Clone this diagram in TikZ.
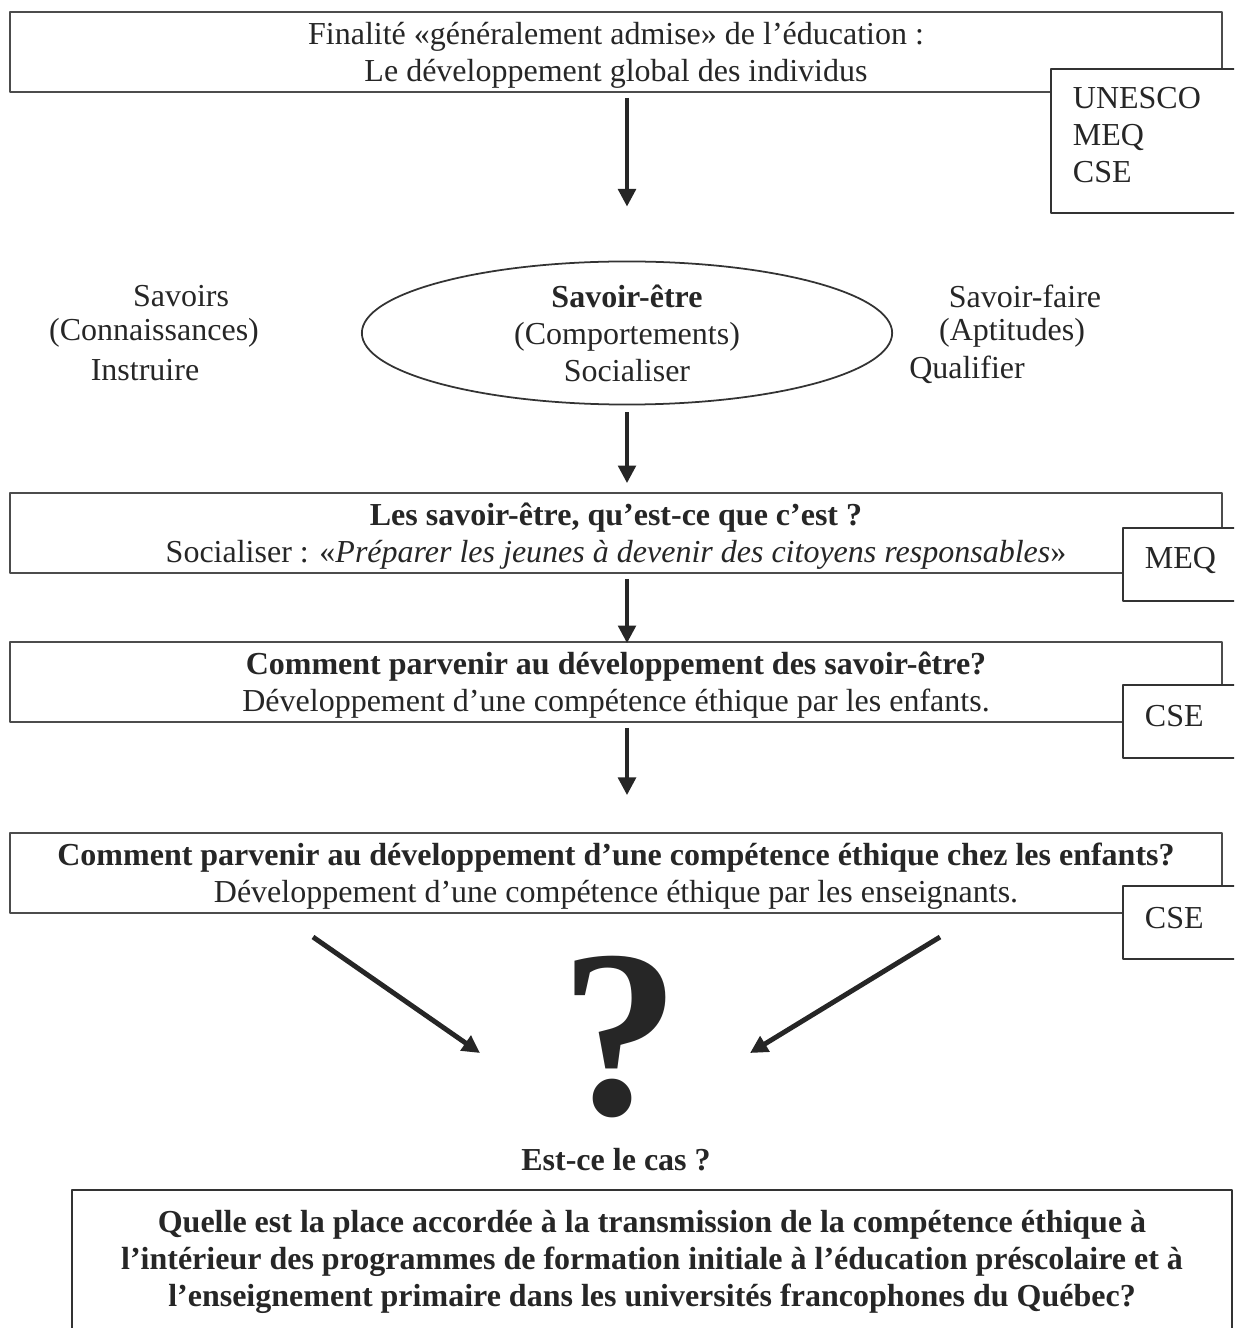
\documentclass[tikz,border=0pt]{standalone}
\usepackage{fontspec}
\setmainfont{Liberation Serif}
\usetikzlibrary{shapes.geometric,arrows.meta}
\begin{document}
\begin{tikzpicture}[x=.01cm, y=-.01cm, >={Triangle[length=5pt,width=5pt]}, line join=round, font=\fontsize{9.1}{10.5}\selectfont, text=black!85]
	\tikzset{box/.style={draw=black!70, line width=.5pt, fill=white, minimum width=12.12cm, minimum height=.8cm, inner sep=0pt, text depth=0pt, align=center},
		src/.style={draw=black!80, line width=.5pt, fill=white, inner xsep=.22cm, inner ysep=0pt, anchor=north west, align=left},
		arr/.style={->, line width=1.1pt, draw=black!85}}
	\useasboundingbox (0,0) rectangle (1234,1328);
	\clip (0,0) rectangle (1234,1328);
	% boxes down the middle
	\node[box] (top) at (616,52) {Finalité «généralement admise» de l’éducation :\\ Le développement global des individus};
	\node[src, minimum width=1.94cm, minimum height=1.44cm, text width=1.5cm, text depth=.86cm] (src1) at (1050,68) {UNESCO\\ MEQ\\ CSE};
	\node[draw=black!80, line width=.5pt, ellipse, minimum width=5.3cm, minimum height=1.43cm, inner sep=0pt, align=center] (etre) at (627,333)
		{\textbf{Savoir-être}\\ (Comportements)\\ Socialiser};
	\foreach \t/\x/\y in {Savoirs/181/296, (Connaissances)/154/333, Instruire/145/370, Savoir-faire/1025/296, (Aptitudes)/1012/333, Qualifier/967/370}{
		\node at (\x,\y) {\t};
	}
	\node[box] (b3) at (616,533) {\textbf{Les savoir-être, qu’est-ce que c’est ?}\\ Socialiser : «\textit{Préparer les jeunes à devenir des citoyens responsables}»};
	\node[src, minimum width=1.18cm, minimum height=.73cm, text width=.8cm, text depth=.12cm] (src2) at (1122,527) {MEQ};
	\node[box] (b4) at (616,682) {\textbf{Comment parvenir au développement des savoir-être?}\\ Développement d’une compétence éthique par les enfants.};
	\node[src, minimum width=1.18cm, minimum height=.73cm, text width=.8cm, text depth=.1cm] (src3) at (1122,684) {CSE};
	\node[box] (b5) at (616,873) {\textbf{Comment parvenir au développement d’une compétence éthique chez les enfants?}\\ Développement d’une compétence éthique par les enseignants.};
	\node[src, minimum width=1.18cm, minimum height=.73cm, text width=.8cm, text depth=.1cm] (src4) at (1122,885) {CSE};
	% the question
	\node (q) at (620,1037) {\fontsize{68}{68}\selectfont\bfseries ?};
	\node[font=\fontsize{9.1}{10.5}\selectfont\bfseries] (cas) at (616,1160) {Est-ce le cas ?};
	\node[draw=black!80, line width=.5pt, anchor=north, minimum width=11.6cm, minimum height=1.45cm, text depth=.08cm, align=center, font=\fontsize{9.1}{10.5}\selectfont\bfseries] (quest) at (652,1189)
		{Quelle est la place accordée à la transmission de la compétence éthique à\\ l’intérieur des programmes de formation initiale à l’éducation préscolaire et à\\ l’enseignement primaire dans les universités francophones du Québec?};
	% arrows
	\draw[arr, shorten <=.05cm, shorten >=.54cm] (top.south -| etre.north) -- (etre.north);
	\draw[arr, shorten <=.07cm, shorten >=.09cm] (etre.south) -- (b3.north -| etre.south);
	\draw[arr, shorten <=.05cm, shorten >=-.02cm] (b3.south -| etre.south) -- (b4.north -| etre.south);
	\draw[arr, shorten <=.05cm, shorten >=.37cm] (b4.south -| etre.south) -- (b5.north -| etre.south);
	\coordinate (la) at (313,937);
	\coordinate (lb) at (480,1053);
	\coordinate (ra) at (940,937);
	\coordinate (rb) at (750,1053);
	\draw[arr, line width=1.4pt] (la) -- (lb);
	\draw[arr, line width=1.4pt] (ra) -- (rb);
\end{tikzpicture}
\end{document}
